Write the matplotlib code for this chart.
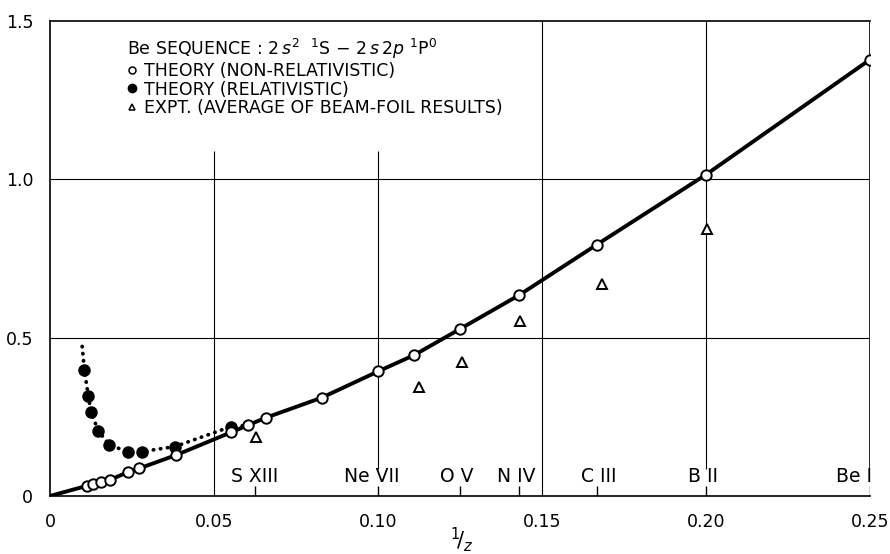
import numpy as np
import matplotlib.pyplot as plt
from matplotlib.lines import Line2D

# Non-relativistic theory (open circles), 1/Z vs value
nr_x = [0.0112, 0.0132, 0.0155, 0.0183, 0.0237, 0.0272, 0.0384, 0.0552,
        0.0605, 0.0658, 0.0828, 0.1000, 0.1111, 0.1250, 0.1429, 0.1667,
        0.2000, 0.2500]
nr_y = [0.032, 0.038, 0.043, 0.051, 0.075, 0.087, 0.129, 0.201,
        0.224, 0.247, 0.310, 0.393, 0.445, 0.527, 0.633, 0.793,
        1.014, 1.377]

# Relativistic theory (filled circles)
rel_x = [0.0105, 0.0117, 0.0125, 0.0147, 0.0181, 0.0237, 0.0280, 0.0381, 0.0552]
rel_y = [0.396, 0.314, 0.265, 0.206, 0.161, 0.140, 0.140, 0.156, 0.219]

# dotted curve ends beyond the first and last relativistic points
rel_start = (0.0098, 0.472)
rel_end = (0.0590, 0.222)

# Beam-foil experiment averages (triangles)
exp_x = [0.0627, 0.1125, 0.1255, 0.1433, 0.1682, 0.2004]
exp_y = [0.187, 0.345, 0.422, 0.553, 0.669, 0.842]

# ions along the axis
ion_x = [1 / 16, 0.10, 0.125, 1 / 7, 1 / 6, 0.20, 0.25]
ion_labels = ['S XIII', 'Ne VII', 'O V', 'N IV', 'C III', 'B II', 'Be I']
ion_shift = [0, -6, -3, -2, 2, -3, -16]

xticks = [0, 0.05, 0.10, 0.15, 0.20, 0.25]
xtick_labels = ['0', '0.05', '0.10', '0.15', '0.20', '0.25']
yticks = [0, 0.5, 1.0, 1.5]
ytick_labels = ['0', '0.5', '1.0', '1.5']

fig = plt.figure(figsize=(8.9, 5.54), dpi=100)
ax = fig.add_axes([0.0562, 0.1047, 0.9213, 0.8581])
ax.set_xlim(0, 0.25)
ax.set_ylim(0, 1.5)

# grid, drawn by hand so it can stop short of the key and ion labels
ax.axhline(0.5, color='black', lw=0.8, zorder=1)
ax.axhline(1.0, color='black', lw=0.8, zorder=1)
ax.vlines(0.05, 0, 1.09, color='black', lw=0.8, zorder=1)
ax.vlines(0.10, 0.085, 1.09, color='black', lw=0.8, zorder=1)
ax.vlines(0.15, 0, 1.5, color='black', lw=0.8, zorder=1)
ax.vlines(0.20, 0.085, 1.5, color='black', lw=0.8, zorder=1)
ax.vlines(0.25, 0.085, 1.5, color='black', lw=1.2, zorder=1)
ax.vlines(ion_x, 0, 0.032, color='black', lw=1.0, zorder=1)

# curves
line_x = [0] + nr_x
line_y = [0] + nr_y
ax.plot(line_x, line_y, color='black', lw=2.8, zorder=2)

dot_x = [rel_start[0]] + rel_x + [rel_end[0]]
dot_y = [rel_start[1]] + rel_y + [rel_end[1]]
ax.plot(dot_x, dot_y, color='black', lw=2.7, linestyle=(0, (0.1, 1.8)),
        dash_capstyle='round', zorder=2)

ax.plot(nr_x, nr_y, 'o', ms=7.5, mfc='white', mec='black', mew=1.4, zorder=4)
ax.plot(rel_x, rel_y, 'o', ms=8, mfc='black', mec='black', zorder=3)
ax.plot(exp_x, exp_y, '^', ms=7, mfc='white', mec='black', mew=1.4, zorder=4)

for x, lab, dx in zip(ion_x, ion_labels, ion_shift):
    ax.annotate(lab, (x, 0), xytext=(dx, 19), textcoords='offset pixels',
                ha='center', va='center', fontsize=13.5)

# key
handles = [
    Line2D([], [], ls='none', marker='o', ms=5, mfc='white', mec='black', mew=1.1),
    Line2D([], [], ls='none', marker='o', ms=6, mfc='black', mec='black'),
    Line2D([], [], ls='none', marker='^', ms=5, mfc='white', mec='black', mew=1.1),
]
labels = ['THEORY (NON-RELATIVISTIC)', 'THEORY (RELATIVISTIC)',
          'EXPT. (AVERAGE OF BEAM-FOIL RESULTS)']
title = r'Be SEQUENCE : 2$\,s^2$  $^1$S $-$ 2$\,s\,$2$p$ $^1$P$^0$'
leg = ax.legend(handles, labels, title=title,
                loc='upper left', bbox_to_anchor=(0.083, 0.983), frameon=False,
                fontsize=12.5, title_fontsize=12.5, handlelength=0.6,
                handletextpad=0.4, labelspacing=0.03, borderpad=0,
                alignment='left')

ax.set_xticks(xticks)
ax.set_xticklabels(xtick_labels)
ax.set_yticks(yticks)
ax.set_yticklabels(ytick_labels)
ax.tick_params(length=0, labelsize=12.5)
ax.tick_params(axis='x', pad=12)
ax.tick_params(axis='y', pad=12)
ax.spines['right'].set_visible(False)
for s in ['left', 'bottom', 'top']:
    ax.spines[s].set_linewidth(1.2)

fig.text(0.519, 0.026, r'$^{1}\!/_{z}$', fontsize=15, ha='center', va='center')

plt.savefig('out.png', dpi=100)
